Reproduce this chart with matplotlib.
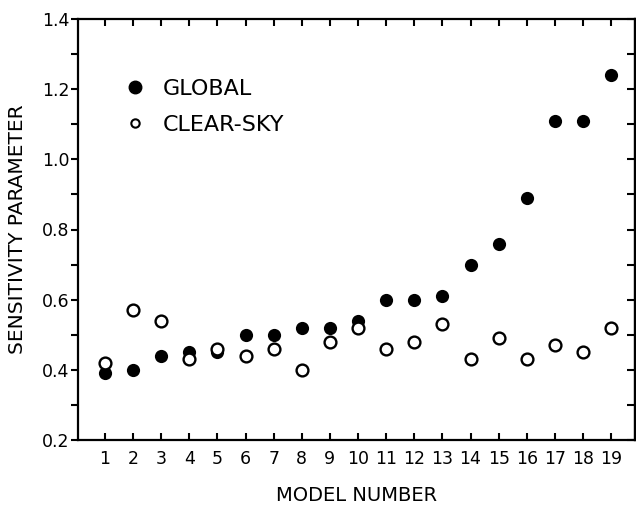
import matplotlib
matplotlib.use('Agg')
import matplotlib.pyplot as plt
from matplotlib.lines import Line2D
from matplotlib.ticker import MultipleLocator

# sensitivity parameter per model
models = list(range(1, 20))
glob = [0.39, 0.40, 0.44, 0.45, 0.45, 0.50, 0.50, 0.52, 0.52, 0.54,
        0.60, 0.60, 0.61, 0.70, 0.76, 0.89, 1.11, 1.11, 1.24]
clear = [0.42, 0.57, 0.54, 0.43, 0.46, 0.44, 0.46, 0.40, 0.48, 0.52,
         0.46, 0.48, 0.53, 0.43, 0.49, 0.43, 0.47, 0.45, 0.52]
xticklabels = [str(m) for m in models]
yticks = [0.2, 0.4, 0.6, 0.8, 1.0, 1.2, 1.4]

plt.rcParams['font.family'] = ['DejaVu Sans']

fig = plt.figure(figsize=(6.36, 5.07), dpi=100)
ax = fig.add_axes([78/636, 67/507, 557/636, 421/507])

ax.plot(models, glob, 'o', color='black', ms=9.5, mec='black', mew=0, zorder=2)
ax.plot(models, clear, 'o', mfc='white', mec='black', ms=8.5, mew=1.7, zorder=3)

ax.set_xlim(0.04, 19.85)
ax.set_ylim(0.2, 1.4)
ax.set_xticks(models)
ax.set_xticklabels(xticklabels)
ax.set_yticks(yticks)
ax.set_yticklabels(['%.1f' % v for v in yticks])
ax.yaxis.set_minor_locator(MultipleLocator(0.1))

for s in ax.spines.values():
    s.set_linewidth(1.6)

ax.tick_params(axis='x', which='both', direction='in', top=True, bottom=True,
               length=5, width=1.5, labelsize=12.5, pad=7)
ax.tick_params(axis='y', which='both', left=True, right=False, direction='out',
               length=5, width=1.5, labelsize=12.5, pad=1)
ax2 = ax.secondary_yaxis('right')
ax2.set_yticks(yticks)
ax2.yaxis.set_minor_locator(MultipleLocator(0.1))
ax2.tick_params(which='both', direction='in', length=6, width=1.5, labelright=False)
ax2.spines['right'].set_linewidth(1.6)

ax.set_xlabel('MODEL NUMBER', fontsize=14, labelpad=13)
ax.set_ylabel('SENSITIVITY PARAMETER', fontsize=14.5, labelpad=11)

handles = [
    Line2D([], [], ls='none', marker='o', color='black', ms=9),
    Line2D([], [], ls='none', marker='o', mfc='white', mec='black', ms=6, mew=1.5),
]
ax.legend(handles, ['GLOBAL', 'CLEAR-SKY'], loc='upper left',
          bbox_to_anchor=(0.062, 0.885), frameon=False, fontsize=16,
          numpoints=1, handlelength=1.0, handletextpad=0.75,
          labelspacing=0.75, borderpad=0)

fig.savefig('out.png', dpi=100)
